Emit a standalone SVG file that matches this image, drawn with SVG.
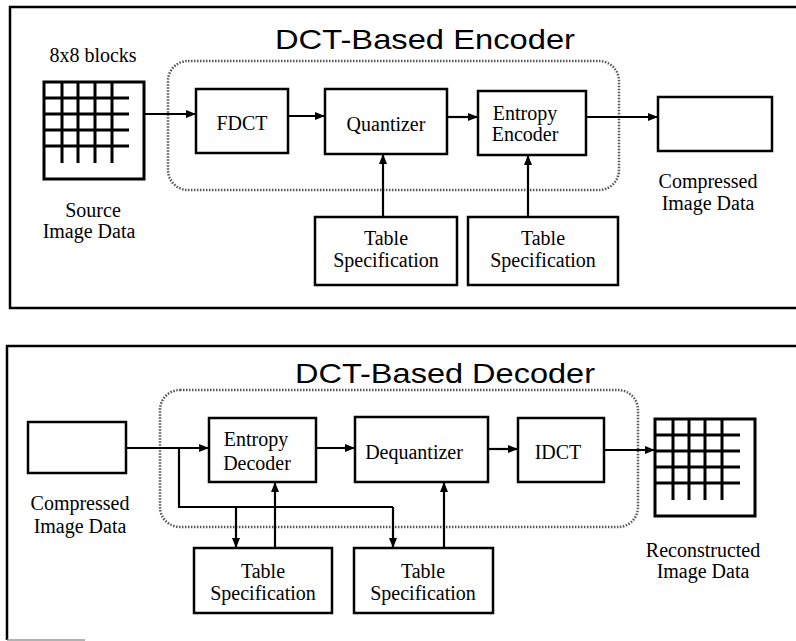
<svg xmlns="http://www.w3.org/2000/svg" width="796" height="641" viewBox="0 0 796 641">
<defs>
<marker id="ah" markerUnits="userSpaceOnUse" markerWidth="11" markerHeight="9" refX="10" refY="4.5" orient="auto">
<path d="M0,0.5 L10,4.5 L0,8.5 z" fill="#000"/>
</marker>
<style>
.box{fill:#fff;stroke:#000;stroke-width:2.5}
.frame{fill:none;stroke:#000;stroke-width:2.5}
.dot{fill:none;stroke:#555;stroke-width:2.5;stroke-dasharray:1.5 1.5}
.grid{stroke:#000;stroke-width:3;fill:none}
.c{fill:none;stroke:#000;stroke-width:2.2}
.ca{fill:none;stroke:#000;stroke-width:2.2;marker-end:url(#ah)}
.t{font-family:'Liberation Serif',serif;font-size:20px;fill:#000;text-anchor:middle}
.title{font-family:'Liberation Sans',sans-serif;font-size:28px;fill:#000;text-anchor:middle}
</style>
</defs>
<rect width="796" height="641" fill="#fff"/>

<g id="encoder-panel">
<path class="frame" d="M796,7 H10 V308 H796"/>
<text class="title" font-family="Liberation Sans, sans-serif" x="425" y="49" textLength="300" lengthAdjust="spacingAndGlyphs">DCT-Based Encoder</text>
<rect class="dot" x="168" y="61" width="451" height="129" rx="20"/>
</g>

<g font-family="Liberation Serif, serif">
<g id="source-image">
<text class="t" font-family="Liberation Serif, serif" x="93" y="62">8x8 blocks</text>
<rect class="grid" x="44" y="82" width="100" height="97"/>
<path class="grid" d="M62,82V163M78,82V163M95,82V163M112,82V163M44,98H129M44,114H129M44,130H129M44,146H129"/>
<text class="t" font-family="Liberation Serif, serif" x="93" y="217">Source</text>
<text class="t" font-family="Liberation Serif, serif" x="89" y="238">Image Data</text>
</g>

<g id="fdct"><rect class="box" x="196" y="89" width="92" height="64"/><text class="t" font-family="Liberation Serif, serif" x="242" y="130">FDCT</text></g>
<g id="quantizer"><rect class="box" x="325" y="89" width="122" height="65"/><text class="t" font-family="Liberation Serif, serif" x="386" y="131">Quantizer</text></g>
<g id="entropy-encoder"><rect class="box" x="478" y="91" width="108" height="64"/><text class="t" font-family="Liberation Serif, serif" x="525" y="120">Entropy</text><text class="t" font-family="Liberation Serif, serif" x="525" y="141">Encoder</text></g>
<g id="compressed-out"><rect class="box" x="658" y="97" width="114" height="54"/><text class="t" font-family="Liberation Serif, serif" x="708" y="188">Compressed</text><text class="t" font-family="Liberation Serif, serif" x="708" y="210">Image Data</text></g>
<g id="table-q"><rect class="box" x="315" y="217" width="142" height="68"/><text class="t" font-family="Liberation Serif, serif" x="386" y="245">Table</text><text class="t" font-family="Liberation Serif, serif" x="386" y="267">Specification</text></g>
<g id="table-e"><rect class="box" x="468" y="217" width="150" height="68"/><text class="t" font-family="Liberation Serif, serif" x="543" y="245">Table</text><text class="t" font-family="Liberation Serif, serif" x="543" y="267">Specification</text></g>
</g>

<g id="decoder-panel">
<path class="frame" d="M796,346 H7 V640"/>
<path d="M7,640 H85" stroke="#999" stroke-width="1.5"/>
<text class="title" font-family="Liberation Sans, sans-serif" x="445" y="383" textLength="300" lengthAdjust="spacingAndGlyphs">DCT-Based Decoder</text>
<rect class="dot" x="160" y="390" width="478" height="137" rx="20"/>
</g>

<g font-family="Liberation Serif, serif">
<g id="compressed-in"><rect class="box" x="28" y="422" width="98" height="51"/><text class="t" font-family="Liberation Serif, serif" x="80" y="510">Compressed</text><text class="t" font-family="Liberation Serif, serif" x="80" y="533">Image Data</text></g>
<g id="entropy-decoder"><rect class="box" x="209" y="418" width="107" height="64"/><text class="t" font-family="Liberation Serif, serif" x="256" y="446">Entropy</text><text class="t" font-family="Liberation Serif, serif" x="257" y="470">Decoder</text></g>
<g id="dequantizer"><rect class="box" x="355" y="417" width="133" height="65"/><text class="t" font-family="Liberation Serif, serif" x="414" y="459">Dequantizer</text></g>
<g id="idct"><rect class="box" x="518" y="418" width="86" height="64"/><text class="t" font-family="Liberation Serif, serif" x="558" y="459">IDCT</text></g>
<g id="reconstructed">
<rect class="grid" x="655" y="419" width="100" height="97"/>
<path class="grid" d="M673,419V500M689,419V500M705,419V500M722,419V500M655,435H740M655,451H740M655,467H740M655,483H740"/>
<text class="t" font-family="Liberation Serif, serif" x="703" y="557">Reconstructed</text>
<text class="t" font-family="Liberation Serif, serif" x="703" y="578">Image Data</text>
</g>
<g id="table-ed"><rect class="box" x="194" y="548" width="138" height="65"/><text class="t" font-family="Liberation Serif, serif" x="263" y="578">Table</text><text class="t" font-family="Liberation Serif, serif" x="263" y="600">Specification</text></g>
<g id="table-dq"><rect class="box" x="354" y="548" width="139" height="65"/><text class="t" font-family="Liberation Serif, serif" x="423" y="578">Table</text><text class="t" font-family="Liberation Serif, serif" x="423" y="600">Specification</text></g>
</g>

<g id="connectors">
<path class="ca" d="M144,114H196"/>
<path class="ca" d="M288,116H325"/>
<path class="ca" d="M447,117H478"/>
<path class="ca" d="M586,117H658"/>
<path class="ca" d="M383,217V154"/>
<path class="ca" d="M528,217V155"/>
<path class="ca" d="M126,448H209"/>
<path class="c" d="M179,448V507H393"/>
<path class="ca" d="M393,507V548"/>
<path class="ca" d="M236,507V548"/>
<path class="ca" d="M275,548V482"/>
<path class="ca" d="M316,448H355"/>
<path class="ca" d="M488,449H518"/>
<path class="ca" d="M604,450H655"/>
<path class="ca" d="M444,548V482"/>
</g>
</svg>
